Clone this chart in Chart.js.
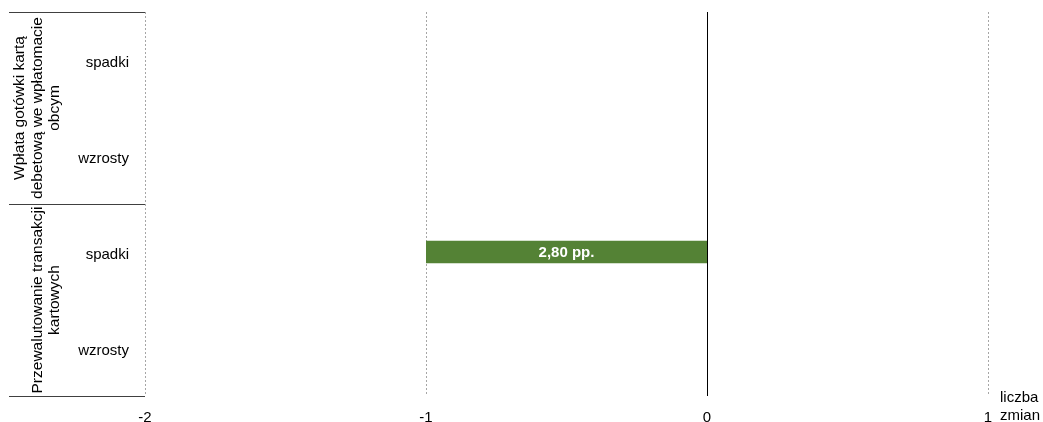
<!DOCTYPE html>
<html><head><meta charset="utf-8">
<script src="https://cdn.jsdelivr.net/npm/chart.js@4/dist/chart.umd.min.js"></script>
<style>html,body{margin:0;padding:0;background:#fff;} #wrap{width:1043px;height:422px;position:relative;}</style>
</head><body><div id="wrap"><canvas id="c" width="1043" height="422"></canvas></div>
<script>
const categories = ['spadki', 'wzrosty', 'spadki', 'wzrosty'];
const groupLabels = [
  ['Wpłata gotówki kartą', 'debetową we wpłatomacie', 'obcym'],
  ['Przewalutowanie transakcji', 'kartowych']
];
const groupSizes = [2, 2];
const values = [null, null, -1, null];
const valueLabels = ['', '', '2,80 pp.', ''];
const xTicks = [-2, -1, 0, 1];
const axisTitle = ['liczba', 'zmian'];

const FONT = '"Liberation Sans", Arial, sans-serif';
Chart.defaults.font.family = FONT;
Chart.defaults.font.size = 15;
Chart.defaults.color = '#000';

const decor = {
  id: 'decor',
  beforeDatasetsDraw(chart) {
    const ctx = chart.ctx, ca = chart.chartArea, xs = chart.scales.x;
    ctx.save();
    xTicks.forEach(v => {
      if (v === 0) return;
      const x = Math.round(xs.getPixelForValue(v)) + 0.5;
      ctx.strokeStyle = '#a6a6a6';
      ctx.lineWidth = 1;
      ctx.setLineDash([2, 2]);
      ctx.beginPath(); ctx.moveTo(x, ca.top); ctx.lineTo(x, ca.bottom); ctx.stroke();
    });
    ctx.restore();
  },
  afterDatasetsDraw(chart) {
    const ctx = chart.ctx, ca = chart.chartArea, xs = chart.scales.x, ys = chart.scales.y;
    ctx.save();
    // zero line
    const x0 = Math.round(xs.getPixelForValue(0)) + 0.5;
    ctx.strokeStyle = '#000'; ctx.lineWidth = 1; ctx.setLineDash([]);
    ctx.beginPath(); ctx.moveTo(x0, ca.top); ctx.lineTo(x0, ca.bottom); ctx.stroke();

    // value labels
    const meta = chart.getDatasetMeta(0);
    ctx.font = 'bold 15px ' + FONT;
    ctx.fillStyle = '#fff'; ctx.textAlign = 'center'; ctx.textBaseline = 'middle';
    meta.data.forEach((el, i) => {
      if (!valueLabels[i] || values[i] == null) return;
      ctx.fillText(valueLabels[i], (el.x + el.base) / 2, el.y + 1);
    });

    // group separators and labels
    const cw = (ys.bottom - ys.top) / categories.length;
    let start = 0;
    const bounds = [];
    groupSizes.forEach((n, g) => {
      const top = ys.getPixelForValue(start) - cw / 2;
      const bot = ys.getPixelForValue(start + n - 1) + cw / 2;
      bounds.push(top, bot);
      const cy = (top + bot) / 2;
      const lines = groupLabels[g];
      ctx.font = '15.5px ' + FONT;
      ctx.fillStyle = '#000'; ctx.textAlign = 'center'; ctx.textBaseline = 'alphabetic';
      lines.forEach((ln, i) => {
        const bx = 59 - (lines.length - 1 - i) * 17.5;
        ctx.save();
        ctx.translate(bx, cy);
        ctx.rotate(-Math.PI / 2);
        ctx.fillText(ln, 0, 0);
        ctx.restore();
      });
      start += n;
    });
    ctx.strokeStyle = '#404040'; ctx.lineWidth = 1;
    [...new Set(bounds.map(b => Math.round(b)))].forEach(b => {
      ctx.beginPath(); ctx.moveTo(9, b + 0.5); ctx.lineTo(ca.left, b + 0.5); ctx.stroke();
    });

    // axis title
    ctx.font = '15px ' + FONT; ctx.fillStyle = '#000';
    ctx.textAlign = 'left'; ctx.textBaseline = 'middle';
    ctx.fillText(axisTitle[0], 1000, 398);
    ctx.fillText(axisTitle[1], 1000, 416);
    ctx.restore();
  }
};

new Chart(document.getElementById('c'), {
  type: 'bar',
  data: {
    labels: categories,
    datasets: [{
      data: values,
      backgroundColor: '#548235',
      borderWidth: 0,
      barPercentage: 0.232,
      categoryPercentage: 1
    }]
  },
  options: {
    indexAxis: 'y',
    responsive: false,
    animation: false,
    devicePixelRatio: 1,
    layout: { padding: { left: 0, top: 12, right: 55, bottom: 0 } },
    plugins: { legend: { display: false }, tooltip: { enabled: false } },
    scales: {
      x: {
        type: 'linear', min: -2, max: 1,
        afterBuildTicks: s => { s.ticks = xTicks.map(v => ({ value: v })); },
        afterFit: s => { s.height = 26; s.paddingLeft = 0; s.paddingRight = 0; },
        grid: { display: false, drawTicks: false },
        border: { display: false },
        ticks: { padding: 13, font: { size: 15 }, color: '#000', callback: v => String(v) }
      },
      y: {
        type: 'category',
        afterFit: s => { s.width = 145; s.paddingTop = 0; s.paddingBottom = 0; },
        grid: { display: false, drawTicks: false },
        border: { display: false },
        ticks: { padding: 16, labelOffset: 2.5, font: { size: 15 }, color: '#000' }
      }
    }
  },
  plugins: [decor]
});
</script>
</body></html>
